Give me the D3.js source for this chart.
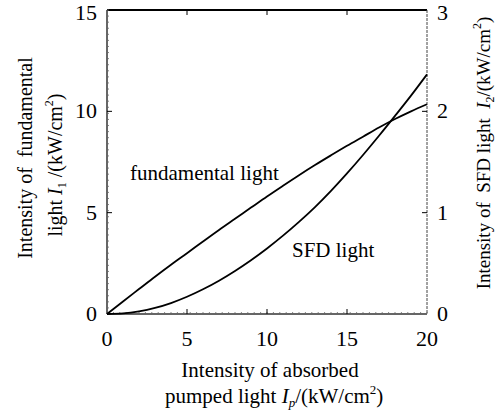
<!DOCTYPE html>
<html>
<head>
<meta charset="utf-8">
<script src="https://cdn.jsdelivr.net/npm/d3@7"></script>
<style>
  body { margin: 0; background: #fff; }
  svg text { font-family: "Liberation Serif", "Times New Roman", Times, "DejaVu Serif", serif; fill: #000; }
</style>
</head>
<body>
<svg id="chart" width="496" height="416"></svg>
<script>
// data
const pumped = [0, 1, 2, 3, 4, 5, 6, 7, 8, 9, 10, 11, 12, 13, 14, 15, 16, 17, 18, 19, 20];
const fundamental = [0, 0.62, 1.23, 1.84, 2.43, 3.0, 3.58, 4.15, 4.7, 5.25, 5.8, 6.33, 6.85, 7.35, 7.83, 8.3, 8.75, 9.2, 9.62, 10.0, 10.35];
const sfd = [0, 0.006, 0.026, 0.06, 0.108, 0.17, 0.244, 0.329, 0.425, 0.531, 0.647, 0.773, 0.909, 1.055, 1.215, 1.387, 1.569, 1.759, 1.955, 2.155, 2.365];
const xTicks = [0, 5, 10, 15, 20];
const yLeftTicks = [0, 5, 10, 15];
const yRightTicks = [0, 1, 2, 3];

const svg = d3.select("#chart");
const pLeft = 107, pRight = 427, pTop = 10, pBottom = 314;

const x = d3.scaleLinear().domain([0, 20]).range([pLeft, pRight]);
const yL = d3.scaleLinear().domain([0, 15]).range([pBottom, pTop]);
const yR = d3.scaleLinear().domain([0, 3]).range([pBottom, pTop]);

// frame
svg.append("line").attr("x1", pLeft).attr("x2", pRight).attr("y1", pTop).attr("y2", pTop)
  .attr("stroke", "#000").attr("stroke-width", 2);
svg.append("line").attr("x1", pLeft).attr("x2", pLeft).attr("y1", pTop).attr("y2", pBottom)
  .attr("stroke", "#333").attr("stroke-width", 1.5);
svg.append("line").attr("x1", pLeft).attr("x2", pRight).attr("y1", pBottom).attr("y2", pBottom)
  .attr("stroke", "#333").attr("stroke-width", 1.5);
svg.append("line").attr("x1", pRight).attr("x2", pRight).attr("y1", pTop).attr("y2", pBottom)
  .attr("stroke", "#444").attr("stroke-width", 1).attr("stroke-dasharray", "3,1");

// small minor marks on left and bottom axes
const minorY = d3.range(0, 15.01, 0.3);
svg.append("g").selectAll("line").data(minorY).join("line")
  .attr("x1", pLeft).attr("x2", pLeft + 2).attr("y1", d => yL(d)).attr("y2", d => yL(d))
  .attr("stroke", "#666").attr("stroke-width", 0.8);
const minorX = d3.range(0, 20.01, 0.4);
svg.append("g").selectAll("line").data(minorX).join("line")
  .attr("x1", d => x(d)).attr("x2", d => x(d)).attr("y1", pBottom).attr("y2", pBottom - 2)
  .attr("stroke", "#666").attr("stroke-width", 0.8);

// major ticks, all pointing inward
const inner = xTicks.slice(1, -1);
svg.append("g").selectAll("line").data(inner).join("line")
  .attr("x1", d => x(d)).attr("x2", d => x(d)).attr("y1", pBottom).attr("y2", pBottom - 5)
  .attr("stroke", "#000");
svg.append("g").selectAll("line").data(inner).join("line")
  .attr("x1", d => x(d)).attr("x2", d => x(d)).attr("y1", pTop).attr("y2", pTop + 5)
  .attr("stroke", "#000");
svg.append("g").selectAll("line").data(yLeftTicks.slice(1, -1)).join("line")
  .attr("x1", pLeft).attr("x2", pLeft + 5).attr("y1", d => yL(d)).attr("y2", d => yL(d))
  .attr("stroke", "#000");
svg.append("g").selectAll("line").data(yRightTicks.slice(1, -1)).join("line")
  .attr("x1", pRight).attr("x2", pRight - 5).attr("y1", d => yR(d)).attr("y2", d => yR(d))
  .attr("stroke", "#000");

// tick labels
svg.append("g").selectAll("text").data(xTicks).join("text")
  .attr("x", d => x(d)).attr("y", 346).attr("text-anchor", "middle")
  .attr("font-size", 22).text(d => d);
svg.append("g").selectAll("text").data(yLeftTicks).join("text")
  .attr("x", 97).attr("y", d => Math.max(yL(d) + 7, 20)).attr("text-anchor", "end")
  .attr("font-size", 22).text(d => d);
svg.append("g").selectAll("text").data(yRightTicks).join("text")
  .attr("x", 437).attr("y", d => Math.max(yR(d) + 7, 20)).attr("text-anchor", "start")
  .attr("font-size", 22).text(d => d);

// curves
const lineL = d3.line().x((d, i) => x(pumped[i])).y(d => yL(d)).curve(d3.curveMonotoneX);
const lineR = d3.line().x((d, i) => x(pumped[i])).y(d => yR(d)).curve(d3.curveMonotoneX);
svg.append("path").datum(fundamental).attr("d", lineL)
  .attr("fill", "none").attr("stroke", "#000").attr("stroke-width", 1.8);
svg.append("path").datum(sfd).attr("d", lineR)
  .attr("fill", "none").attr("stroke", "#000").attr("stroke-width", 1.8);

// curve labels
svg.append("text").attr("x", 130).attr("y", 180).attr("font-size", 21).text("fundamental light");
svg.append("text").attr("x", 292).attr("y", 257).attr("font-size", 21).text("SFD light");

// x axis title
svg.append("text").attr("x", 270).attr("y", 377).attr("text-anchor", "middle")
  .attr("font-size", 21).text("Intensity of absorbed");
const xt = svg.append("text").attr("x", 165).attr("y", 403).attr("text-anchor", "start")
  .attr("font-size", 21);
xt.append("tspan").text("pumped light ");
xt.append("tspan").attr("font-style", "italic").text("I");
xt.append("tspan").attr("font-size", 13).attr("font-style", "italic").attr("dy", 4).text("p");
xt.append("tspan").attr("dy", -4).text("/(kW/cm");
xt.append("tspan").attr("font-size", 13).attr("dy", -9).text("2");
xt.append("tspan").attr("dy", 9).text(")");

// left y title, two lines
svg.append("text").attr("transform", "translate(32,158) rotate(-90)")
  .attr("text-anchor", "middle").attr("font-size", 20)
  .attr("xml:space", "preserve").text("Intensity of  fundamental");
const ly = svg.append("text").attr("transform", "translate(62,165) rotate(-90)")
  .attr("text-anchor", "middle").attr("font-size", 20);
ly.append("tspan").text("light ");
ly.append("tspan").attr("font-style", "italic").text("I");
ly.append("tspan").attr("font-size", 12).attr("dy", 4).text("1");
ly.append("tspan").attr("dy", -4).text(" /(kW/cm");
ly.append("tspan").attr("font-size", 12).attr("dy", -9).text("2");
ly.append("tspan").attr("dy", 9).text(")");

// right y title
const ry = svg.append("text").attr("transform", "translate(490,153) rotate(-90)")
  .attr("text-anchor", "middle").attr("font-size", 19).attr("xml:space", "preserve");
ry.append("tspan").text("Intensity of  SFD light  ");
ry.append("tspan").attr("font-style", "italic").text("I");
ry.append("tspan").attr("font-size", 12).attr("dy", 4).text("2");
ry.append("tspan").attr("dy", -4).text("/(kW/cm");
ry.append("tspan").attr("font-size", 12).attr("dy", -9).text("2");
ry.append("tspan").attr("dy", 9).text(")");
</script>
</body>
</html>
